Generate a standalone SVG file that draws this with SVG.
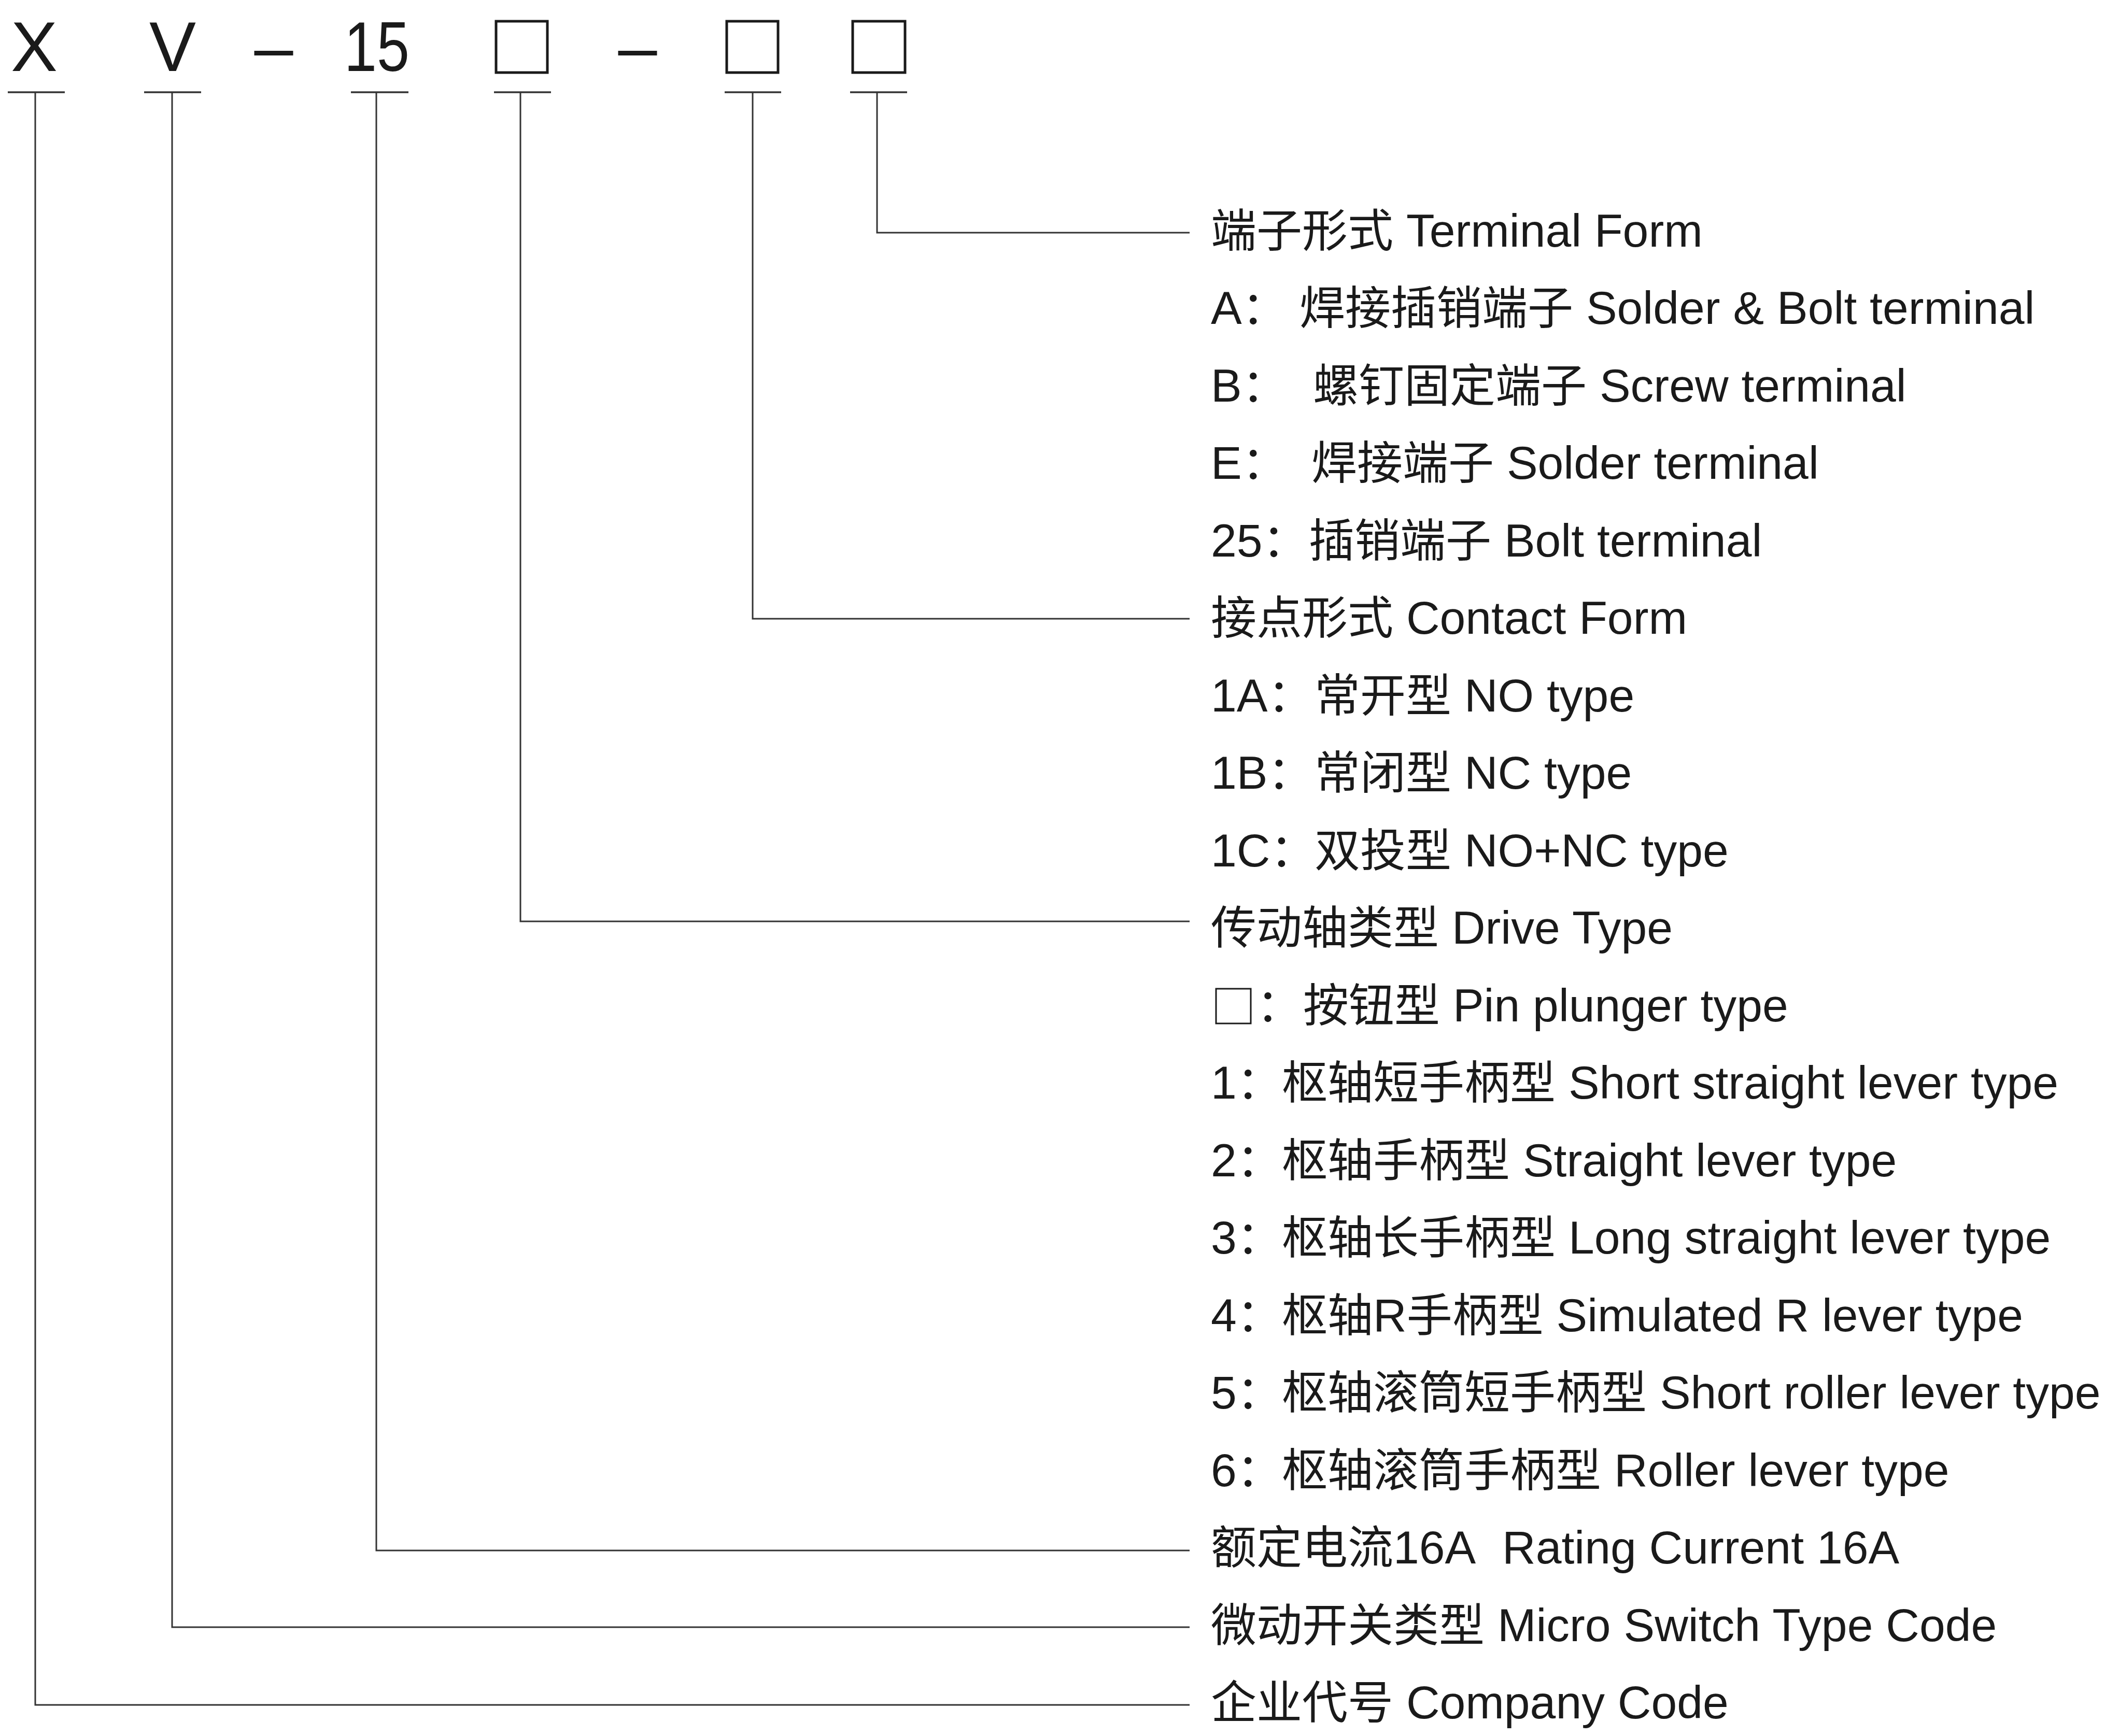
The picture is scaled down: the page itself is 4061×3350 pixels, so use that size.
<svg xmlns="http://www.w3.org/2000/svg" width="4061" height="3350" viewBox="0 0 4061 3350">
<style>
.hd{font-family:"Liberation Sans","Noto Sans",sans-serif;font-size:135px;fill:#1a1a1a;text-anchor:middle}
.t{font-family:"Liberation Sans","Noto Sans CJK SC",sans-serif;font-size:89.5px;fill:#1a1a1a}
.c{font-family:"Noto Sans CJK SC",sans-serif;font-size:88px}
.ln{fill:none;stroke:#333;stroke-width:3}
.ul{fill:none;stroke:#333;stroke-width:3.5}
.box{fill:none;stroke:#1a1a1a;stroke-width:5}
</style>
<rect width="4061" height="3350" fill="#fff"/>
<g id="code">
<text class="hd" x="66" y="137">X</text>
<text class="hd" x="333" y="137">V</text>
<text class="hd" x="528" y="137">–</text>
<text class="hd" x="727" y="137" textLength="126" lengthAdjust="spacingAndGlyphs">15</text>
<rect class="box" x="957" y="41" width="99" height="99"/>
<text class="hd" x="1230" y="137">–</text>
<rect class="box" x="1402" y="41" width="99" height="99"/>
<rect class="box" x="1645" y="41" width="101" height="99"/>
<line class="ul" x1="15" y1="178" x2="125" y2="178"/>
<line class="ul" x1="278" y1="178" x2="388" y2="178"/>
<line class="ul" x1="677" y1="178" x2="788" y2="178"/>
<line class="ul" x1="953" y1="178" x2="1063" y2="178"/>
<line class="ul" x1="1398" y1="178" x2="1507" y2="178"/>
<line class="ul" x1="1640" y1="178" x2="1750" y2="178"/>
</g>
<g id="connectors">
<polyline class="ln" points="1692,178 1692,449 2295,449"/>
<polyline class="ln" points="1452,178 1452,1194 2295,1194"/>
<polyline class="ln" points="1004,178 1004,1778 2295,1778"/>
<polyline class="ln" points="726,178 726,2992 2295,2992"/>
<polyline class="ln" points="332,178 332,3140 2295,3140"/>
<polyline class="ln" points="68,178 68,3290 2295,3290"/>
</g>
<g id="terminal-form">
<text class="t" x="2336" y="476"><tspan class="c">端子形式</tspan> Terminal Form</text>
<text class="t" x="2336" y="625">A<tspan class="c">：</tspan><tspan class="c" x="2507">焊接插销端子</tspan> Solder &amp; Bolt terminal</text>
<text class="t" x="2336" y="775">B<tspan class="c">：</tspan><tspan class="c" x="2533">螺钉固定端子</tspan> Screw terminal</text>
<text class="t" x="2336" y="924">E<tspan class="c">：</tspan><tspan class="c" x="2530">焊接端子</tspan> Solder terminal</text>
<text class="t" x="2336" y="1074">25<tspan class="c">：</tspan><tspan class="c" x="2525">插销端子</tspan> Bolt terminal</text>
</g>
<g id="contact-form">
<text class="t" x="2336" y="1223"><tspan class="c">接点形式</tspan> Contact Form</text>
<text class="t" x="2336" y="1373">1A<tspan class="c">：</tspan><tspan class="c" x="2536">常开型</tspan> NO type</text>
<text class="t" x="2336" y="1522">1B<tspan class="c">：</tspan><tspan class="c" x="2536">常闭型</tspan> NC type</text>
<text class="t" x="2336" y="1672">1C<tspan class="c">：</tspan><tspan class="c" x="2536">双投型</tspan> NO+NC type</text>
</g>
<g id="drive-type">
<text class="t" x="2336" y="1821"><tspan class="c">传动轴类型</tspan> Drive Type</text>
<rect x="2346" y="1908" width="67" height="67" fill="none" stroke="#1a1a1a" stroke-width="3"/>
<text class="t" x="2424" y="1971"><tspan class="c">：</tspan><tspan class="c" x="2514">按钮型</tspan> Pin plunger type</text>
<text class="t" x="2336" y="2120">1<tspan class="c">：</tspan><tspan class="c" x="2473">枢轴短手柄型</tspan> Short straight lever type</text>
<text class="t" x="2336" y="2270">2<tspan class="c">：</tspan><tspan class="c" x="2473">枢轴手柄型</tspan> Straight lever type</text>
<text class="t" x="2336" y="2419">3<tspan class="c">：</tspan><tspan class="c" x="2473">枢轴长手柄型</tspan> Long straight lever type</text>
<text class="t" x="2336" y="2569">4<tspan class="c">：</tspan><tspan class="c" x="2473">枢轴</tspan>R<tspan class="c">手柄型</tspan> Simulated R lever type</text>
<text class="t" x="2336" y="2718">5<tspan class="c">：</tspan><tspan class="c" x="2473">枢轴滚筒短手柄型</tspan> Short roller lever type</text>
<text class="t" x="2336" y="2868">6<tspan class="c">：</tspan><tspan class="c" x="2473">枢轴滚筒手柄型</tspan> Roller lever type</text>
</g>
<g id="rating-current">
<text class="t" x="2336" y="3017"><tspan class="c">额定电流</tspan>16A<tspan x="2898">Rating Current 16A</tspan></text>
</g>
<g id="micro-switch-type">
<text class="t" x="2336" y="3167"><tspan class="c">微动开关类型</tspan> Micro Switch Type Code</text>
</g>
<g id="company-code">
<text class="t" x="2336" y="3316"><tspan class="c">企业代号</tspan> Company Code</text>
</g>
</svg>
